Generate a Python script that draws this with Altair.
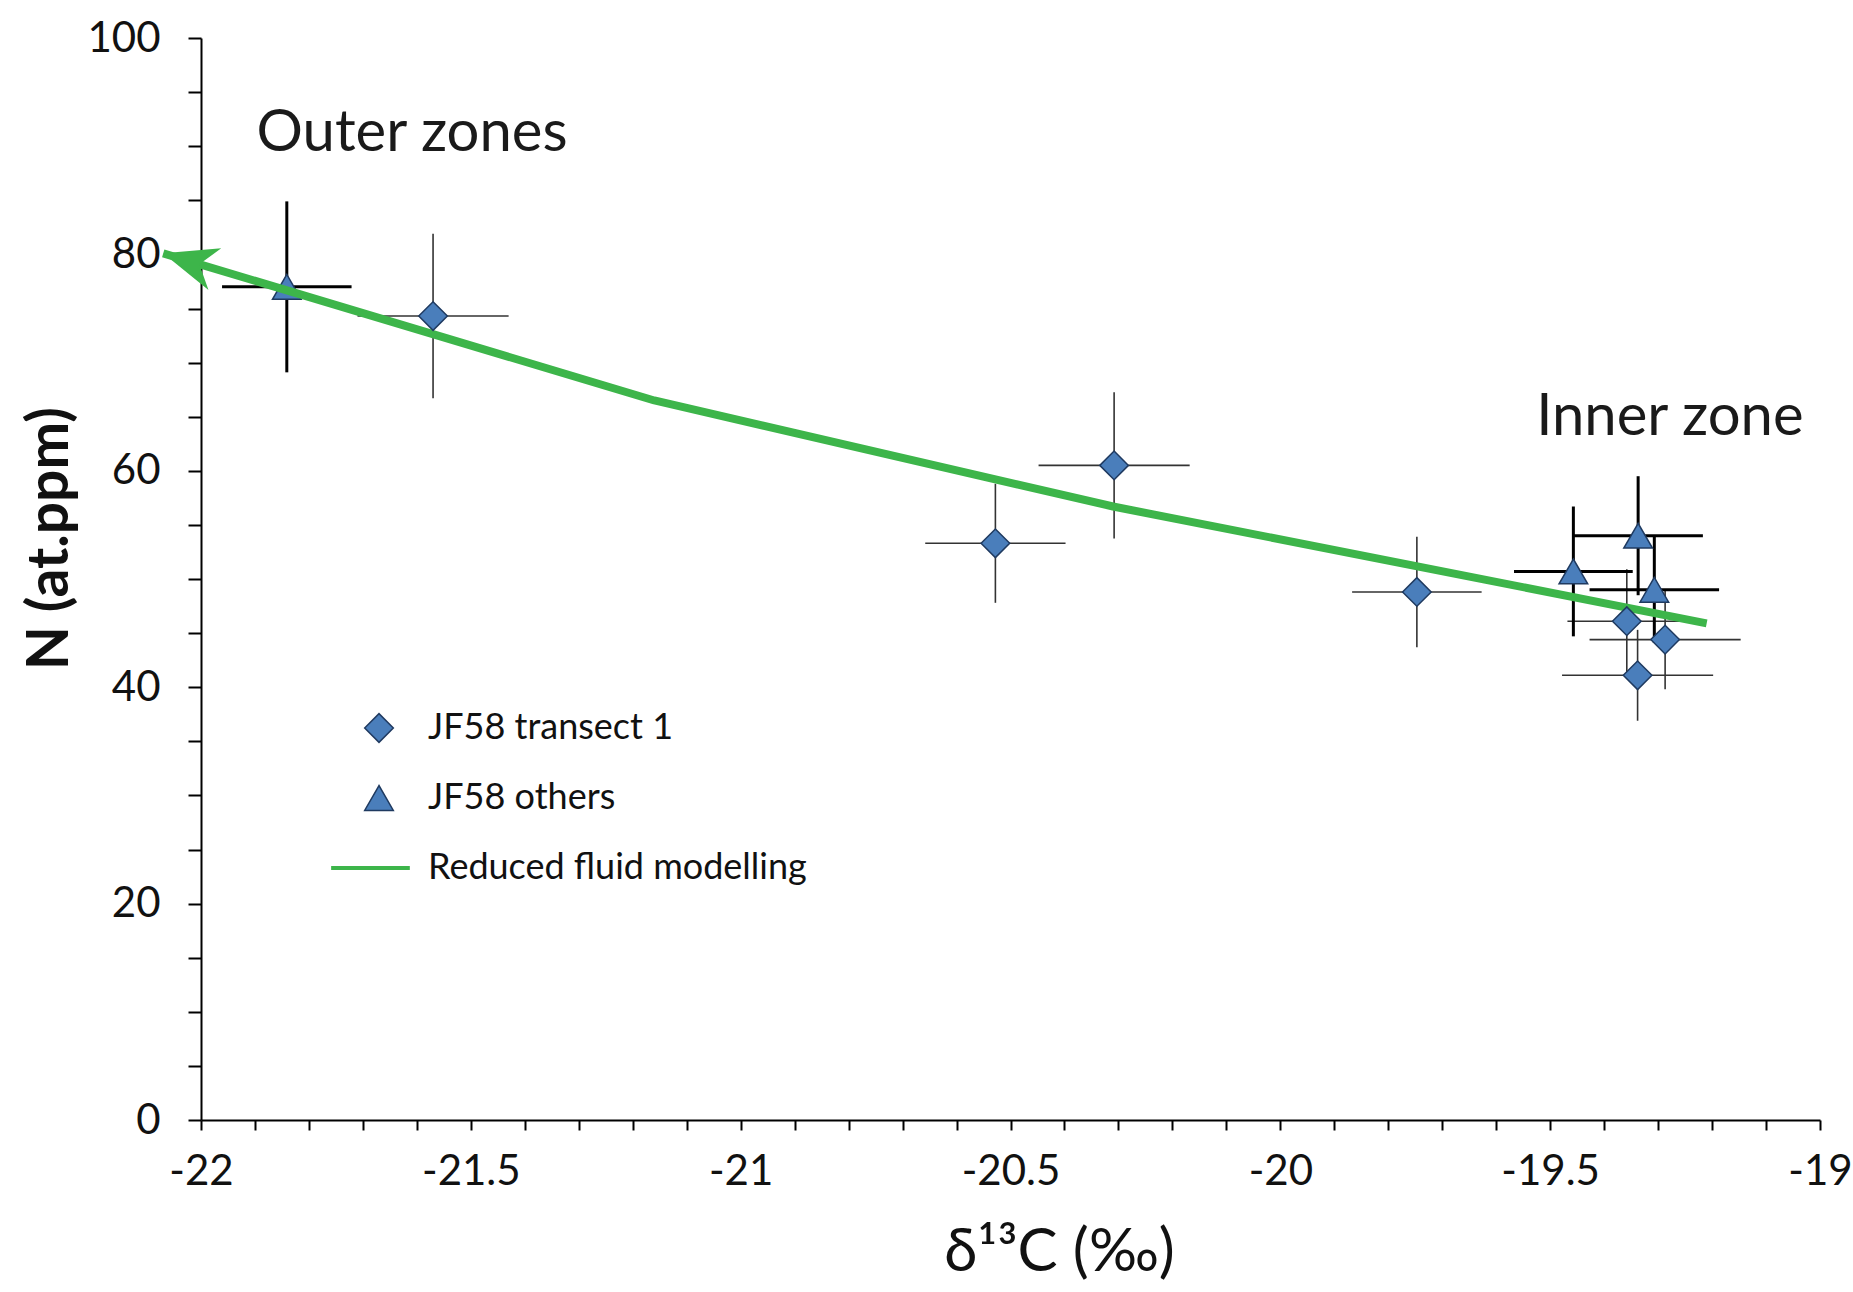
import altair as alt
import pandas as pd

# ---- data ----
diamond_x = [-21.570, -20.528, -20.308, -19.747, -19.358, -19.287, -19.338]
diamond_y = [74.3, 53.3, 60.5, 48.8, 46.1, 44.4, 41.1]
diamond_xerr = [0.14, 0.13, 0.14, 0.12, 0.11, 0.14, 0.14]
diamond_yerr = [7.6, 5.5, 6.75, 5.1, 4.8, 4.6, 4.2]

triangle_x = [-21.841, -19.457, -19.337, -19.307]
triangle_y = [77.0, 50.7, 54.0, 49.0]
triangle_xerr = [0.12, 0.11, 0.12, 0.12]
triangle_yerr = [7.9, 6.0, 5.5, 4.9]

model_x = [-22.07, -21.16, -20.31, -19.21]
model_y = [80.1, 66.5, 56.7, 45.9]

series_names = ["JF58 transect 1", "JF58 others", "Reduced fluid modelling"]

annot_text = ["Outer zones", "Inner zone"]
annot_x = [-21.897, -19.526]
annot_y = [89.6, 63.3]

x_ticks = [round(-22 + i * 0.1, 1) for i in range(31)]
y_ticks = list(range(0, 101, 5))

# ---- styles ----
FONT = "Lato"
BLUE = "#4a7ebb"
NAVY = "#1f3a60"
GREEN = "#3db54a"

pts = pd.concat([
    pd.DataFrame({"x": diamond_x, "y": diamond_y, "xerr": diamond_xerr,
                  "yerr": diamond_yerr, "series": series_names[0]}),
    pd.DataFrame({"x": triangle_x, "y": triangle_y, "xerr": triangle_xerr,
                  "yerr": triangle_yerr, "series": series_names[1]}),
], ignore_index=True)
model = pd.DataFrame({"x": model_x, "y": model_y, "order": range(len(model_x))})
tip = model.iloc[[0]]
annot = pd.DataFrame({"text": annot_text, "x": annot_x, "y": annot_y})

xscale = alt.Scale(domain=[-22, -19], nice=False, zero=False)
yscale = alt.Scale(domain=[0, 100], nice=False, zero=True)

xaxis = alt.Axis(
    values=x_ticks, title="δ¹³C (‰)",
    labelExpr="abs(datum.value*2 - round(datum.value*2)) < 0.001 ? toString(round(datum.value*10)/10) : ''",
    labelOverlap=False, labelFlush=False, grid=False,
    tickSize=10, tickWidth=2, tickColor="black", domainColor="black", domainWidth=2,
    labelFont=FONT, labelFontSize=42, labelColor="#111", labelPadding=21,
    titleFont=FONT, titleFontSize=60, titleFontWeight="normal", titleColor="#111",
    titlePadding=31, titleX=858,
)
yaxis = alt.Axis(
    values=y_ticks, title="N (at.ppm)",
    labelExpr="datum.value % 20 == 0 ? datum.label : ''",
    labelOverlap=False, labelFlush=False, grid=False,
    tickSize=13, tickWidth=2, tickColor="black", domainColor="black", domainWidth=2,
    labelFont=FONT, labelFontSize=42, labelColor="#111", labelPadding=28,
    titleFont=FONT, titleFontSize=57, titleFontWeight="bold", titleColor="#111",
    titlePadding=7, titleY=500,
)

base = alt.Chart(pts)

def errbars(name, color, width):
    b = base.transform_filter(alt.datum.series == name)
    h = b.transform_calculate(lo="datum.x - datum.xerr", hi="datum.x + datum.xerr").mark_rule(
        color=color, strokeWidth=width).encode(
        x=alt.X("lo:Q", scale=xscale, axis=xaxis), x2="hi:Q",
        y=alt.Y("y:Q", scale=yscale, axis=yaxis))
    v = b.transform_calculate(lo="datum.y - datum.yerr", hi="datum.y + datum.yerr").mark_rule(
        color=color, strokeWidth=width).encode(
        x=alt.X("x:Q", scale=xscale, axis=xaxis),
        y=alt.Y("lo:Q", scale=yscale, axis=yaxis), y2="hi:Q")
    return h + v

err_d = errbars(series_names[0], "#333333", 1.6)
err_t = errbars(series_names[1], "#000000", 3)

line_path = "M-3.29,-0.09L2.1,-0.09L2.1,0.09L-3.29,0.09Z"
legend = alt.Legend(
    title=None, orient="none", legendX=160, legendY=672,
    labelFont=FONT, labelFontSize=36, labelColor="#111", labelOffset=31,
    rowPadding=34, symbolStrokeWidth=1.5, symbolSize=820, labelLimit=600,
)

points = base.mark_point(opacity=1, strokeWidth=1.5, size=820).encode(
    x=alt.X("x:Q", scale=xscale, axis=xaxis),
    y=alt.Y("y:Q", scale=yscale, axis=yaxis),
    shape=alt.Shape("series:N", scale=alt.Scale(domain=series_names,
                    range=["diamond", "triangle-up", line_path]), legend=legend),
    fill=alt.Fill("series:N", scale=alt.Scale(domain=series_names,
                  range=[BLUE, BLUE, GREEN]), legend=legend),
    stroke=alt.Stroke("series:N", scale=alt.Scale(domain=series_names,
                      range=[NAVY, NAVY, GREEN]), legend=legend),
)
tri_points = points.transform_filter(alt.datum.series == series_names[1])
dia_points = points.transform_filter(alt.datum.series == series_names[0])

model_line = alt.Chart(model).mark_line(color=GREEN, strokeWidth=8, strokeCap="butt",
                                         strokeJoin="round").encode(
    x=alt.X("x:Q", scale=xscale, axis=xaxis),
    y=alt.Y("y:Q", scale=yscale, axis=yaxis),
    order="order:Q",
)
arrow = alt.Chart(tip).mark_point(
    shape="M0,0L2,-0.81L1.4,0L2,0.81Z", size=2916, angle=17,
    filled=True, fill=GREEN, opacity=1, strokeWidth=0,
).encode(
    x=alt.X("x:Q", scale=xscale, axis=xaxis),
    y=alt.Y("y:Q", scale=yscale, axis=yaxis),
)

labels = alt.Chart(annot).mark_text(
    font=FONT, fontSize=58, color="#1a1a1a", align="left", baseline="alphabetic"
).encode(
    x=alt.X("x:Q", scale=xscale, axis=xaxis),
    y=alt.Y("y:Q", scale=yscale, axis=yaxis),
    text="text:N",
)

chart = alt.layer(err_d, err_t, tri_points, model_line, arrow, dia_points, labels).properties(
    width=1619, height=1082,
    padding={"left": 201, "top": 38, "right": 33, "bottom": 172},
    autosize=alt.AutoSizeParams(type="none"),
    background="white",
).configure_view(stroke=None)

chart.save("out.html", embed_options={"renderer": "svg", "actions": False})
